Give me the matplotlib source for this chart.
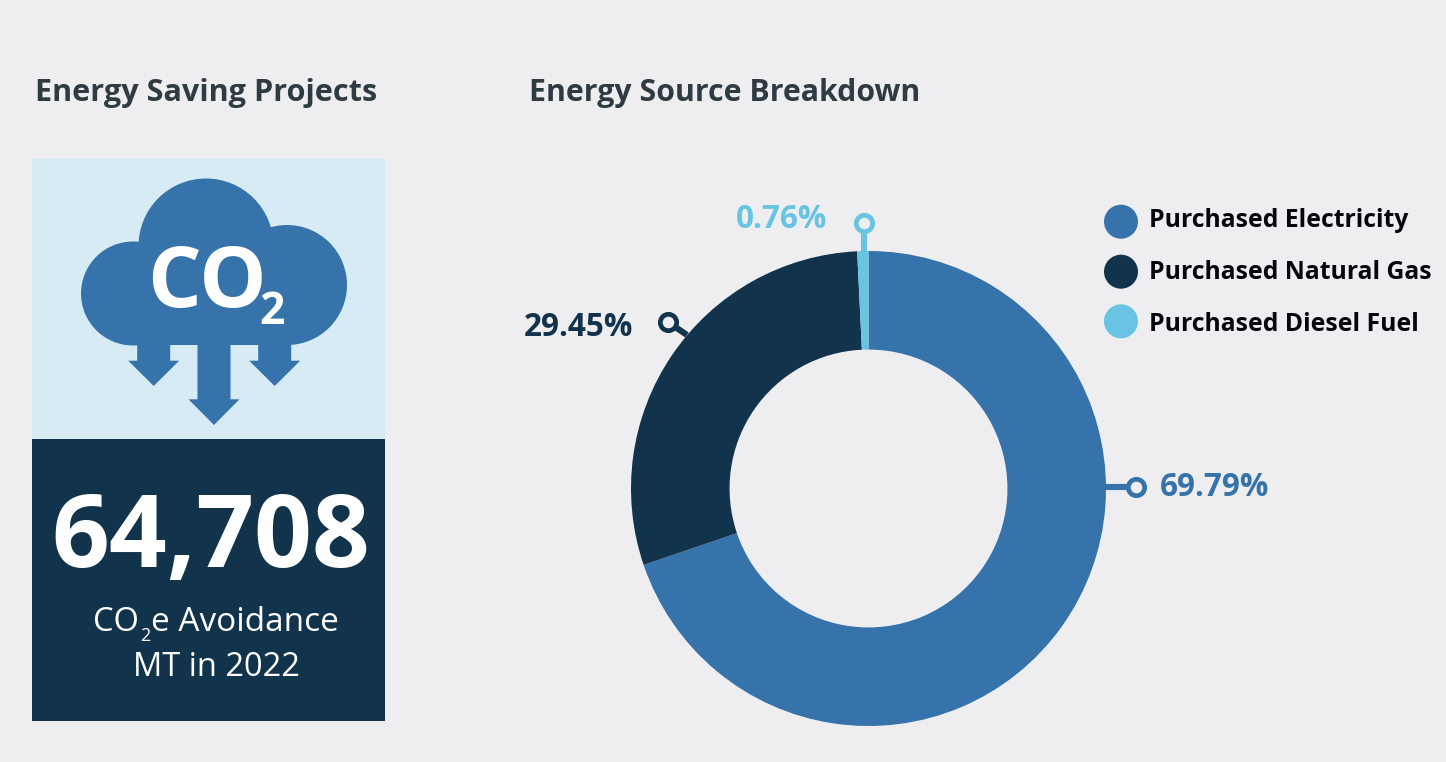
import matplotlib
matplotlib.use('Agg')
import matplotlib.pyplot as plt
from matplotlib.patches import Rectangle, Circle, Polygon

plt.rcParams['font.family'] = ['Open Sans', 'DejaVu Sans']

sources = ['Purchased Electricity', 'Purchased Natural Gas', 'Purchased Diesel Fuel']
shares = [69.79, 29.45, 0.76]
colors = ['#3573AA', '#12334C', '#69C3E2']
share_labels = ['69.79%', '29.45%', '0.76%']
avoidance = '64,708'

BG = '#EEEEF1'
LIGHT = '#D7EBF4'
TITLE = '#2F3B43'

fig = plt.figure(figsize=(14.46, 7.62), dpi=100, facecolor=BG)

# overlay in pixel coordinates, everything except the donut goes here
ax = fig.add_axes([0, 0, 1, 1])
ax.set_xlim(0, 1446)
ax.set_ylim(762, 0)
ax.axis('off')

ax.text(35, 93, 'Energy Saving Projects', fontsize=22.1, fontweight='bold', color=TITLE, va='center')
ax.text(529, 93, 'Energy Source Breakdown', fontsize=21.8, fontweight='bold', color=TITLE, va='center')

# left panel
ax.add_patch(Rectangle((32, 159), 353, 280, color=LIGHT, lw=0))
ax.add_patch(Rectangle((32, 439), 353, 282, color=colors[1], lw=0))

# cloud
blue = colors[0]
ax.add_patch(Circle((206, 246), 67.5, color=blue, lw=0))
ax.add_patch(Circle((133, 293.5), 52, color=blue, lw=0))
ax.add_patch(Circle((287, 285), 60, color=blue, lw=0))
ax.add_patch(Rectangle((133, 250), 154, 95, color=blue, lw=0))


def arrow(cx, top, neck, tip):
    pts = [(cx - 16.5, top), (cx + 16.5, top), (cx + 16.5, neck), (cx + 25.5, neck),
           (cx, tip), (cx - 25.5, neck), (cx - 16.5, neck)]
    ax.add_patch(Polygon(pts, closed=True, color=blue, lw=0))


arrow(153.7, 344, 360.7, 386)
arrow(214, 344, 399.3, 425)
arrow(274.7, 344, 360.7, 386)

ax.text(147, 307, 'CO', fontsize=61, fontweight='bold', color='white', va='baseline')
ax.text(259, 324, '2', fontsize=32, fontweight='bold', color='white', va='baseline')

ax.text(211, 567, avoidance, fontsize=73, fontweight='bold', color='white', ha='center', va='baseline')

ax.text(93, 631, 'CO', fontsize=23.5, color='white', va='baseline')
ax.text(140, 641, '2', fontsize=13, color='white', va='baseline')
ax.text(151, 631, 'e Avoidance', fontsize=24, color='white', va='baseline')
ax.text(216, 676, 'MT in 2022', fontsize=23.5, color='white', ha='center', va='baseline')

# donut
pie_ax = fig.add_axes([631 / 1446, (762 - 726) / 762, 475 / 1446, 475 / 762])
pie_ax.pie(shares, colors=colors, startangle=90, counterclock=False, radius=1,
           wedgeprops={'width': 0.415, 'linewidth': 0})
pie_ax.set_xlim(-1, 1)
pie_ax.set_ylim(-1, 1)
pie_ax.patch.set_alpha(0)

# callouts: leader line, ring, value
ax.set_zorder(pie_ax.get_zorder() + 1)
callouts = [((1105, 487), (1136, 487), (1160, 488), 'left'),
            ((687, 335), (668, 322), (633, 327), 'right'),
            ((863.5, 252), (863.5, 222.5), (827, 219), 'right')]
for (p0, p1, tp, ha), col, lab in zip(callouts, colors, share_labels):
    ax.plot([p0[0], p1[0]], [p0[1], p1[1]], color=col, lw=4.4, solid_capstyle='butt')
    ax.plot(*p1, 'o', ms=11.8, mfc=BG, mec=col, mew=3.4)
    ax.text(tp[0], tp[1], lab, fontsize=22.7, fontweight='bold', color=col, ha=ha, va='center')

# legend
for y, base, name, col in zip([221.7, 271.7, 321.3], [227, 279, 331], sources, colors):
    ax.add_patch(Circle((1121, y), 17, color=col, lw=0))
    ax.text(1149, base, name, fontsize=17.8, fontweight='bold', color='#05070F', va='baseline')

fig.savefig('out.png', dpi=100, facecolor=BG)
